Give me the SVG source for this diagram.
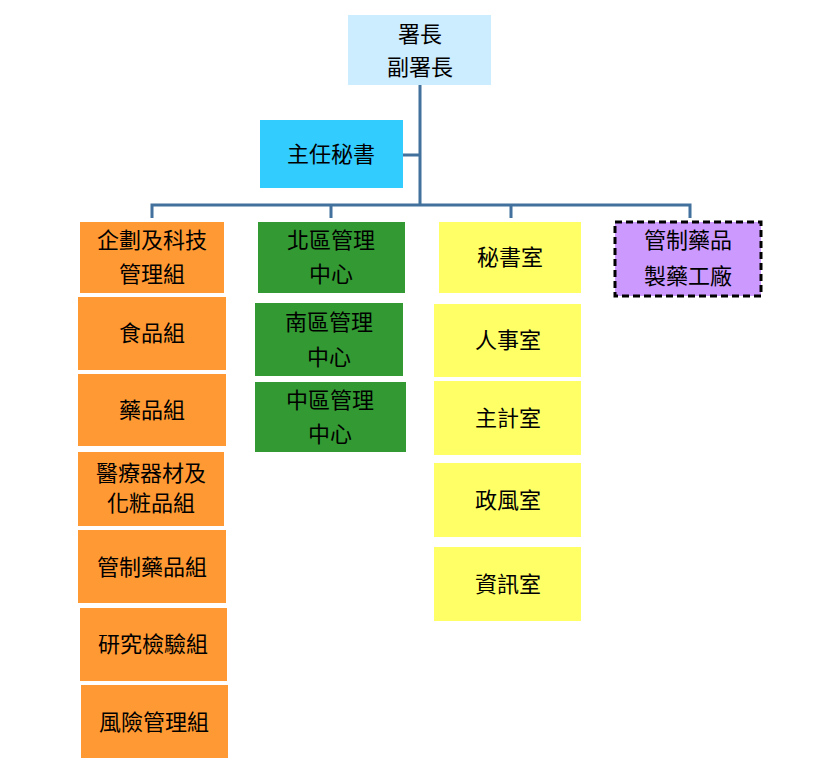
<svg xmlns="http://www.w3.org/2000/svg" width="835" height="784" viewBox="0 0 835 784">
<style>
text{font-family:"Liberation Sans","Noto Sans CJK TC",sans-serif;font-size:22px;fill:#000;text-anchor:middle}
.o{fill:#FF9933}.g{fill:#339933}.y{fill:#FFFF66}
.c{stroke:#41719C;stroke-width:3;fill:none}
</style>
<rect width="835" height="784" fill="#fff"/>
<g id="connectors">
<path class="c" d="M420 85V205M403 155H420M152 218V205H690V218M331 205V218M511 205V218"/>
</g>
<g id="n_chief"><rect x="348" y="15" width="143" height="70" fill="#CCECFF"/><text x="420" y="42">署長</text><text x="420" y="75">副署長</text></g>
<g id="n_sec"><rect x="260" y="120" width="143" height="68" fill="#33CCFF"/><text x="331" y="162">主任秘書</text></g>
<g id="n_o1"><rect class="o" x="80" y="222" width="144" height="71"/><text x="152" y="248">企劃及科技</text><text x="152" y="282">管理組</text></g>
<g id="n_o2"><rect class="o" x="78" y="297" width="148" height="73"/><text x="152" y="341">食品組</text></g>
<g id="n_o3"><rect class="o" x="78" y="374" width="148" height="72"/><text x="152" y="418">藥品組</text></g>
<g id="n_o4"><rect class="o" x="78" y="452" width="146" height="74"/><text x="151" y="481">醫療器材及</text><text x="151" y="511">化粧品組</text></g>
<g id="n_o5"><rect class="o" x="78" y="530" width="148" height="73"/><text x="152" y="575">管制藥品組</text></g>
<g id="n_o6"><rect class="o" x="80" y="608" width="147" height="73"/><text x="153" y="652">研究檢驗組</text></g>
<g id="n_o7"><rect class="o" x="81" y="685" width="147" height="73"/><text x="154" y="730">風險管理組</text></g>
<g id="n_g1"><rect class="g" x="258" y="222" width="147" height="71"/><text x="331" y="248">北區管理</text><text x="331" y="282">中心</text></g>
<g id="n_g2"><rect class="g" x="255" y="303" width="148" height="73"/><text x="329" y="330">南區管理</text><text x="329" y="365">中心</text></g>
<g id="n_g3"><rect class="g" x="255" y="382" width="151" height="70"/><text x="330" y="408">中區管理</text><text x="330" y="442">中心</text></g>
<g id="n_y1"><rect class="y" x="439" y="222" width="142" height="71"/><text x="510" y="265">秘書室</text></g>
<g id="n_y2"><rect class="y" x="434" y="304" width="147" height="73"/><text x="508" y="348">人事室</text></g>
<g id="n_y3"><rect class="y" x="434" y="381" width="147" height="74"/><text x="508" y="426">主計室</text></g>
<g id="n_y4"><rect class="y" x="434" y="463" width="147" height="74"/><text x="508" y="508">政風室</text></g>
<g id="n_y5"><rect class="y" x="434" y="547" width="147" height="74"/><text x="508" y="592">資訊室</text></g>
<g id="n_p"><rect x="615" y="222" width="146" height="74" fill="#CC99FF" stroke="#000" stroke-width="3" stroke-dasharray="7,4"/><text x="688" y="248">管制藥品</text><text x="688" y="284">製藥工廠</text></g>
</svg>
